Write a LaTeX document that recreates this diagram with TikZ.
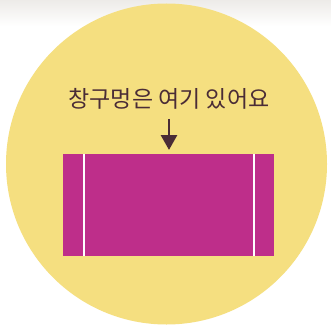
\documentclass[tikz,border=0pt]{standalone}
\usepackage{fontspec}
\newfontfamily\krfont{Noto Sans CJK KR}
\usetikzlibrary{arrows.meta}
\definecolor{bgyellow}{HTML}{F5DF80}
\definecolor{magentafill}{HTML}{BE2E8A}
\definecolor{inkbrown}{HTML}{4A2C36}
\definecolor{shadowgray}{HTML}{EDEBE8}
\tikzset{
  label text/.style={font=\krfont\fontsize{23}{26}\selectfont, text=inkbrown, inner sep=0pt},
  pointer/.style={draw=inkbrown, line width=2.8pt, -{Triangle[length=15pt,width=16pt]}},
  seam/.style={draw=white, line width=2pt},
}
\begin{document}
\begin{tikzpicture}[x=1pt,y=-1pt]
  \useasboundingbox (0,0) rectangle (331,331);
  \fill[white] (0,0) rectangle (331,331);
  \shade[top color=shadowgray, bottom color=white] (0,0) rectangle (331,26);
  \fill[bgyellow] (166.5,164) circle[radius=160.5];
  \fill[magentafill] (63,153.5) rectangle (274,256);
  \draw[seam] (83.5,153.5) -- (83.5,256);
  \draw[seam] (254,153.5) -- (254,256);
  \node[label text] (caption) at (169,99) {창구멍은 여기 있어요};
  \coordinate (arrowtop) at (169,119);
  \coordinate (arrowtip) at (169,150);
  \draw[pointer] (arrowtop) -- (arrowtip);
\end{tikzpicture}
\end{document}
